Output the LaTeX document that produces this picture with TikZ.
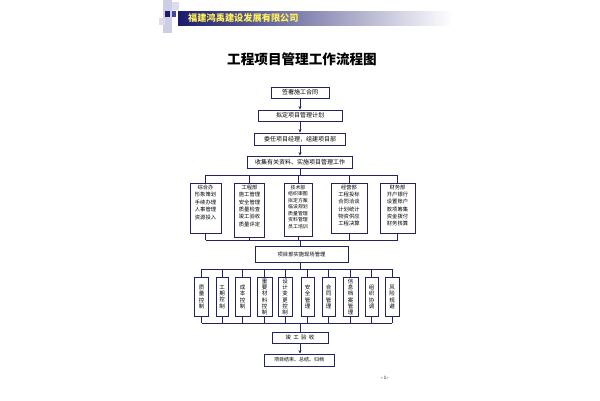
\documentclass[tikz,border=0pt]{standalone}
\usepackage{fontspec}
\newfontfamily\cjk{Noto Sans CJK SC}
\usetikzlibrary{arrows.meta}
\definecolor{lc}{RGB}{35,35,95}
\definecolor{navy}{RGB}{28,28,110}
\definecolor{hdryellow}{RGB}{255,240,90}
\definecolor{lav}{RGB}{205,205,228}
\definecolor{midblue}{RGB}{70,70,160}
\newcommand{\colbox}[4]{\parbox[c][#1][t]{#2}{\centering\vspace*{2pt}\fontsize{#3}{#4}\selectfont}}
\newcommand{\boxtext}[4]{\parbox[c][#1][t]{#2}{\centering\fontsize{#3}{#4}\selectfont\vspace*{2pt}}}
\newcommand{\mybox}[5]{\parbox[c][#1][t]{#2}{\centering\fontsize{#3}{#4}\selectfont\vspace*{1.5pt}#5}}
\newcommand{\vtext}[1]{\parbox{10pt}{\centering\fontsize{5.5}{6.3}\selectfont #1}}
\begin{document}
\begin{tikzpicture}[x=1pt,y=-1pt,
  lnk/.style={draw=lc, line width=0.7pt},
  arr/.style={draw=lc, line width=0.7pt, -{Stealth[length=3.5pt,width=3pt]}},
  bx/.style={draw=lc, line width=0.8pt, fill=white, inner sep=0pt, align=center, font=\cjk},
  topbox/.style={bx, font=\cjk\fontsize{6}{7}\selectfont},
  colbx/.style={bx, anchor=north},
  vbx/.style={bx, anchor=north, minimum width=14pt, minimum height=39pt}
]
\useasboundingbox (0,0) rectangle (600,400);
\fill[white] (0,0) rectangle (600,400);

% header decoration
\fill[lav] (163,0) rectangle (172,33);
\fill[lav!70] (172,2) rectangle (179,10);
\fill[lav!70] (159,18) rectangle (165,25);
\fill[navy] (165,11) rectangle (170,17);
\fill[midblue] (172,11) rectangle (176,17);
\shade[left color=navy, middle color={rgb,255:red,135;green,135;blue,180}, right color=white] (178,11) rectangle (452,25);
\node[font=\cjk\bfseries\fontsize{9.2}{10}\selectfont, text=hdryellow, anchor=west, inner sep=0pt] (hdr) at (188,18) {福建鸿禹建设发展有限公司};

% title
\node[font=\cjk\bfseries\fontsize{13.6}{15}\selectfont, inner sep=0pt] (title) at (302,59) {工程项目管理工作流程图};

% top chain
\node[topbox, minimum width=58pt, minimum height=11pt] (c1) at (300,92.5) {签署施工合同};
\node[topbox, minimum width=84pt, minimum height=11pt] (c2) at (300,115.5) {拟定项目管理计划};
\node[topbox, minimum width=91pt, minimum height=12pt] (c3) at (300,139) {委任项目经理，组建项目部};
\node[topbox, minimum width=105pt, minimum height=12pt] (c4) at (300,162) {收集有关资料、实施项目管理工作};
\draw[arr] (c1) -- (c2);
\draw[arr] (c2) -- (c3);
\draw[arr] (c3) -- (c4);

% five department boxes
\coordinate (s1) at (300,175);
\coordinate (s2) at (300,240);
\node[colbx] (f1) at (205.5,183) {\mybox{50pt}{31pt}{5.3}{7.5}{综合办\\形象策划\\手续办理\\人事管理\\资源投入}};
\node[colbx] (f2) at (249.5,183) {\mybox{54pt}{30pt}{5.3}{7.4}{工程部\\施工管理\\安全管理\\质量检查\\竣工验收\\质量评定}};
\node[colbx] (f3) at (298,183) {\mybox{53pt}{28pt}{4.9}{6.5}{技术部\\组织审图\\拟定方案\\临设规划\\质量管理\\资料管理\\员工培训}};
\node[colbx] (f4) at (349,183) {\mybox{50pt}{36pt}{5.3}{7.3}{经营部\\工程投标\\合同洽谈\\计划统计\\物资供应\\工程决算}};
\node[colbx] (f5) at (397.5,183) {\mybox{50pt}{35pt}{5.3}{7.3}{财务部\\开户银行\\设置账户\\款项筹集\\资金拨付\\财务核算}};
\draw[lnk] (c4.south) -- (s1);
\draw[lnk] (f1.north |- s1) -- (f5.north |- s1);
\foreach \i in {1,2,3,4,5} {
  \draw[lnk] (f\i.north) -- (f\i.north |- s1);
  \draw[lnk] (f\i.south) -- (f\i.south |- s2);
}
\draw[lnk] (f1.south |- s2) -- (f5.south |- s2);

% site management box
\node[bx, font=\cjk\fontsize{5.3}{6}\selectfont, minimum width=93pt, minimum height=16pt] (m) at (301.5,254) {项目部实施现场管理};
\coordinate (t1) at (300,269);
\coordinate (t2) at (300,323);
\draw[lnk] (s2) -- (s2 |- m.north);
\draw[lnk] (t1 |- m.south) -- (t1);

% ten control boxes
\node[vbx] (b1) at (201.5,277) {\vtext{质\\量\\控\\制}};
\node[vbx, minimum width=12pt] (b2) at (222,277) {\vtext{工\\期\\控\\制}};
\node[vbx, minimum width=15pt] (b3) at (242.5,277) {\vtext{成\\本\\控\\制}};
\node[vbx, minimum width=15pt] (b4) at (264.5,277) {\vtext{重\\要\\材\\料\\控\\制}};
\node[vbx] (b5) at (285,277) {\vtext{设\\计\\变\\更\\控\\制}};
\node[vbx, minimum width=13pt] (b6) at (307.5,277) {\vtext{安\\全\\管\\理}};
\node[vbx, minimum width=13pt] (b7) at (328.5,277) {\vtext{合\\同\\管\\理}};
\node[vbx, minimum width=15pt] (b8) at (350.5,277) {\vtext{信\\息\\档\\案\\管\\理}};
\node[vbx, minimum width=13pt] (b9) at (371.5,277) {\vtext{组\\织\\协\\调}};
\node[vbx] (b10) at (392,277) {\vtext{风\\险\\规\\避}};
\draw[lnk] (b1.north |- t1) -- (b10.north |- t1);
\draw[lnk] (b1.south |- t2) -- (b10.south |- t2);
\foreach \i in {1,...,10} {
  \draw[lnk] (b\i.north) -- (b\i.north |- t1);
  \draw[lnk] (b\i.south) -- (b\i.south |- t2);
}

% acceptance and closing
\node[bx, font=\cjk\fontsize{5.5}{6}\selectfont, minimum width=56pt, minimum height=11pt] (j) at (300,337.5) {竣\hspace{2.2pt}工\hspace{2.2pt}验\hspace{2.2pt}收};
\node[bx, font=\cjk\fontsize{5}{6}\selectfont, minimum width=70pt, minimum height=12pt] (e) at (299,360) {项目结束、总结、归档};
\draw[lnk] (t2) -- (t2 |- j.north);
\draw[arr] (t2 |- j.south) -- (t2 |- e.north);

% page number
\node[font=\fontsize{5}{6}\selectfont, inner sep=0pt] (pg) at (385,378) {-1-};
\end{tikzpicture}
\end{document}
